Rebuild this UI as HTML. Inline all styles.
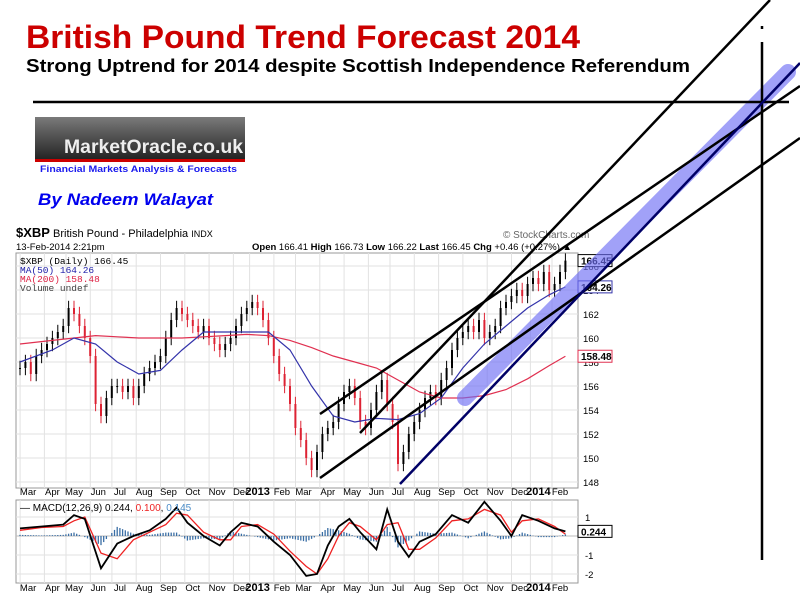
<!DOCTYPE html>
<html><head><meta charset="utf-8"><style>
body{margin:0;background:#fff;width:800px;height:600px;overflow:hidden;font-family:"Liberation Sans",sans-serif}
svg{position:absolute;left:0;top:0}
</style></head><body>
<svg id="s" width="800" height="600" viewBox="0 0 800 600">
<defs><linearGradient id="lg" x1="0" y1="0" x2="0" y2="1"><stop offset="0" stop-color="#7a7a7a"/><stop offset="1" stop-color="#222"/></linearGradient></defs>
<text x="26" y="48" font-size="32" font-weight="bold" fill="#cc0000" textLength="554" lengthAdjust="spacingAndGlyphs">British Pound Trend Forecast 2014</text>
<text x="26" y="72" font-size="18" font-weight="bold" fill="#000" textLength="664" lengthAdjust="spacingAndGlyphs">Strong Uptrend for 2014 despite Scottish Independence Referendum</text>
<g>
<rect x="35" y="117" width="210" height="43" fill="url(#lg)"/>
<rect x="35" y="159" width="210" height="3" fill="#cc0000"/>
<text x="64" y="153" font-size="19" font-weight="bold" fill="#eee" textLength="179" lengthAdjust="spacingAndGlyphs">MarketOracle.co.uk</text>
<text x="40" y="172" font-size="9.5" font-weight="bold" fill="#1a1aee" textLength="197" lengthAdjust="spacingAndGlyphs">Financial Markets Analysis &amp; Forecasts</text>
</g>
<text x="38" y="205" font-size="17" font-weight="bold" font-style="italic" fill="#0000ee" textLength="175" lengthAdjust="spacingAndGlyphs">By Nadeem Walayat</text>
<text x="16" y="237" font-size="11" fill="#000"><tspan font-weight="bold" font-size="13">$XBP</tspan> British Pound - Philadelphia <tspan font-size="9">INDX</tspan></text>
<text x="16" y="250" font-size="9.5" fill="#000">13-Feb-2014 2:21pm</text>
<text x="252" y="250" font-size="9.5" fill="#000"><tspan font-weight="bold">Open</tspan> 166.41 <tspan font-weight="bold">High</tspan> 166.73 <tspan font-weight="bold">Low</tspan> 166.22 <tspan font-weight="bold">Last</tspan> 166.45 <tspan font-weight="bold">Chg</tspan> +0.46 (+0.27%) ▲</text>
<text x="503" y="238" font-size="10" fill="#666">© StockCharts.com</text>
<g id="price"></g>
<g id="macd"></g>
<g id="ann"></g>
</svg>
<script>
const closes=[157.5,158,157,158.5,159,159.5,160,160.5,161,162.5,162,161,160,158.5,154.5,153.5,155,156,156,155.5,156,155,156,157,157.5,158,158.5,160,161.5,162.5,162,161.5,161,160.5,161,160,159.5,159,159.5,160,161,162,162.5,163,162.5,161.5,160,158.5,157,156,154.5,152.5,151.5,150,149,150.5,152,152.5,153,154.5,155.5,156,155,153,152.5,154,155.5,156.5,154.5,153,149.5,150.5,152,153,154,155,155.5,155,156.5,157.5,159,160,160.5,161,160.5,161.5,160,160.5,161,162.5,163,163.5,164,163.5,164.5,165,164.5,165.5,164,164.5,165.5,166.45];
const maWeeks=[0,6,10,14,18,22,26,30,34,38,42,46,50,54,58,62,66,70,74,78,82,86,90,94,98,101];
const ma50=[158,159,160,159.5,158,157,157.3,159,160.5,160.5,160.5,160.5,159,156,153.5,153,153.3,153.2,153.7,155,157.5,159.5,161,162.5,163.6,164.26];
const ma200=[159.5,159.8,160,160.2,160.1,160,160,160,160.1,160.2,160.3,160.2,159.8,159.2,158.5,158,157.5,156.5,155.5,155,155,155.2,155.7,156.6,157.7,158.48];
const macdWeeks=[0,4,8,10,12,15,18,21,24,27,29,31,34,37,39,41,44,47,50,53,55,57,59,61,63,66,68,70,72,74,77,80,83,86,89,91,93,96,99,101];
const macdLine=[0.4,0.5,0.6,1.1,0.9,-1.7,-0.4,0,0.3,0.9,1.5,0.7,0,-0.5,0.2,0.7,0.5,-0.3,-1,-2.1,-2,-0.5,0.5,0.9,0.2,-0.7,1.4,-0.3,-1.1,-0.3,0.1,1.1,0.7,1.8,0.8,0,1.1,0.8,0.4,0.244];
const signalLine=[0.3,0.45,0.5,0.8,1.0,-0.9,-1.2,-0.2,0.2,0.6,1.2,1.1,0.2,-0.2,-0.2,0.5,0.6,0.1,-0.8,-1.6,-2.0,-1.2,0,0.7,0.5,-0.2,0.6,0.7,-0.7,-0.7,-0.1,0.8,0.9,1.4,1.1,0.2,0.8,0.9,0.5,0.1];
const priceTicks=[148,150,152,154,156,158,160,162,164,166];
const monthLabels=["Mar","Apr","May","Jun","Jul","Aug","Sep","Oct","Nov","Dec","2013","Feb","Mar","Apr","May","Jun","Jul","Aug","Sep","Oct","Nov","Dec","2014","Feb"];
const monthWeeks=[1.5,6,10,14.5,18.5,23,27.5,32,36.5,41,44,48.5,52.5,57,61.5,66,70,74.5,79,83.5,88,92.5,96,100];
const macdTicks=[1,-1,-2];

const NS="http://www.w3.org/2000/svg";
function el(p,t,a){const e=document.createElementNS(NS,t);for(const k in a)e.setAttribute(k,a[k]);p.appendChild(e);return e;}
const X=w=>20+w*5.4;
const Y=v=>482-(v-148)*12;
const MY=v=>536-v*19;
const P=document.getElementById('price'),M=document.getElementById('macd'),A=document.getElementById('ann');
let f=el(P,'rect',{x:16,y:253,width:562,height:235,fill:'#fff',stroke:'#999'});

let g=el(M,'rect',{x:16,y:500,width:562,height:83,fill:'#fff',stroke:'#999'});

monthWeeks.forEach((w,i)=>{const x=X(w)-8;
 el(P,'line',{x1:x,y1:253,x2:x,y2:488,stroke:'#e2e2e2'});el(M,'line',{x1:x,y1:500,x2:x,y2:583,stroke:'#e2e2e2'});
 [495,591].forEach(yy=>{const t=el(P,'text',{x:X(w),y:yy,'font-size':monthLabels[i].length>3?11:9.5,'font-weight':monthLabels[i].length>3?'bold':'normal','text-anchor':'middle',fill:'#000'});t.textContent=monthLabels[i];
 });
});
priceTicks.forEach(v=>{el(P,'line',{x1:16,y1:Y(v),x2:578,y2:Y(v),stroke:'#e2e2e2'});
 const t=el(P,'text',{x:583,y:Y(v)+4,'font-size':9.5,fill:'#000'});t.textContent=v;
 });
macdTicks.forEach(v=>{el(M,'line',{x1:16,y1:MY(v),x2:578,y2:MY(v),stroke:'#e2e2e2'});
 const t=el(M,'text',{x:585,y:MY(v)+4,'font-size':9.5,fill:'#000'});t.textContent=v;
 });
[["$XBP (Daily) 166.45","#000",264],["MA(50) 164.26","#2222aa",273],["MA(200) 158.48","#dd2244",282],["Volume undef","#444",291]].forEach(r=>{
 const t=el(P,'text',{x:20,y:r[2],'font-size':9.5,fill:r[1],'font-family':'Liberation Mono, monospace'});t.textContent=r[0];
 });
closes.forEach((c,i)=>{const o=i?closes[i-1]:c;const up=c>=o;const x=X(i);
 const hi=Math.max(o,c)+0.6,lo=Math.min(o,c)-0.6;
 const b=el(P,'line',{x1:x,y1:Y(hi),x2:x,y2:Y(lo),stroke:up?'#000':'#dd2233','stroke-width':1});
 
 const r=el(P,'rect',{x:x-1,y:Y(Math.max(o,c)),width:2,height:Math.max(1,Math.abs(o-c)*12),fill:up?'#000':'#dd2233'});
 });
function line(par,ws,vs,fy,col,w,name){const e=el(par,'polyline',{points:ws.map((k,i)=>X(k)+','+fy(vs[i])).join(' '),fill:'none',stroke:col,'stroke-width':w});
 }
line(P,maWeeks,ma200,Y,'#e03050',1.2,'ma200-line');
line(P,maWeeks,ma50,Y,'#3333aa',1.2,'ma50-line');
function tag(par,y,txt,col){const r=el(par,'rect',{x:578,y:y-6,width:34,height:12,fill:'#fff',stroke:col});
 const t=el(par,'text',{x:581,y:y+4,'font-size':10,'font-weight':'bold',fill:'#000'});t.textContent=txt;}
tag(P,Y(166.45),'166.45','#000');tag(P,Y(164.26),'164.26','#3333aa');tag(P,Y(158.48),'158.48','#e03050');
el(M,'line',{x1:16,y1:MY(0),x2:578,y2:MY(0),stroke:'#bbb'});
for(let w=0;w<=101;w+=0.5){const lerp=(ws,vs)=>{for(let i=1;i<ws.length;i++)if(w<=ws[i]){const t=(w-ws[i-1])/(ws[i]-ws[i-1]);return vs[i-1]+t*(vs[i]-vs[i-1]);}return vs[vs.length-1];};
 const h=(lerp(macdWeeks,macdLine)-lerp(macdWeeks,signalLine))*0.6;
 const b=el(M,'line',{x1:X(w),y1:MY(0),x2:X(w),y2:MY(h),stroke:'#3a6ea5','stroke-width':1.3});
 }
line(M,macdWeeks,signalLine,MY,'#ee2222',1.3,'macd-signal-line');
line(M,macdWeeks,macdLine,MY,'#000',1.8,'macd-line');
const mt=el(M,'text',{x:20,y:511,'font-size':10,fill:'#000'});mt.innerHTML='— MACD(12,26,9) 0.244, <tspan fill="#e22">0.100</tspan>, <tspan fill="#4a8cc8">0.145</tspan>';

tag(M,MY(0.244),'0.244','#000');
el(A,'line',{x1:465,y1:398,x2:788,y2:72,stroke:'rgba(110,110,245,0.65)','stroke-width':16,'stroke-linecap':'round'});
[[33,102,789,102,2.5],[762,42,762,560,2.5],[762,26,762,29,2.5],[320,414,800,86,2.5],[360,433,770,0,2.5],[320,478,800,138,2.5],[400,484,800,63,2.5]].forEach((l,i)=>{
 const e=el(A,'line',{x1:l[0],y1:l[1],x2:l[2],y2:l[3],stroke:i==6?'#000066':'#000','stroke-width':l[4]});
 });
</script>
</body></html>
